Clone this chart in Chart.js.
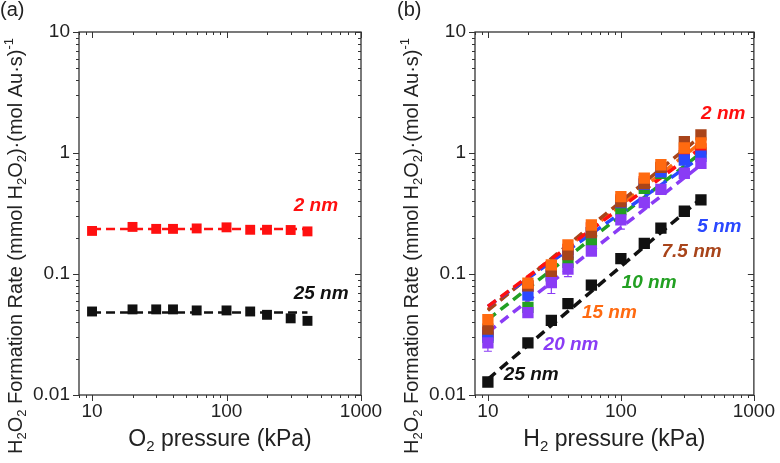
<!DOCTYPE html>
<html>
<head>
<meta charset="utf-8">
<script src="https://cdn.jsdelivr.net/npm/chart.js@4.4.0/dist/chart.umd.min.js"></script>
<style>
  html, body { margin: 0; padding: 0; background: #fff; }
  #wrap { position: relative; width: 780px; height: 463px; }
  .panel { position: absolute; top: 0; width: 390px; height: 463px; }
</style>
</head>
<body>
<div id="wrap">
  <div class="panel" style="left:0"><canvas id="chartA" width="390" height="463"></canvas></div>
  <div class="panel" style="left:390px"><canvas id="chartB" width="390" height="463"></canvas></div>
</div>
<script>
// pressures (kPa), same for both panels
const pressures = [10, 20, 30, 40, 60, 100, 150, 200, 300, 400];
const fitRange = [10, 400];

// (a) rate vs O2 pressure
const rateA_2nm = [0.227, 0.245, 0.236, 0.236, 0.238, 0.243, 0.232, 0.232, 0.231, 0.225];
const rateA_25nm = [0.049, 0.051, 0.051, 0.051, 0.050, 0.050, 0.049, 0.046, 0.043, 0.041];
const fitA_2nm = [0.235, 0.235];
const fitA_25nm = [0.048, 0.048];

// (b) rate vs H2 pressure
const rateB_2nm = [0.033, 0.079, 0.110, 0.160, 0.240, 0.410, 0.580, 0.750, 1.00, 1.08];
const rateB_5nm = [0.031, 0.067, 0.098, 0.150, 0.220, 0.390, 0.550, 0.700, 0.875, 0.94];
const rateB_7_5nm = [0.035, 0.080, 0.105, 0.145, 0.220, 0.395, 0.560, 0.760, 1.24, 1.41];
const rateB_10nm = [0.030, 0.053, 0.096, 0.125, 0.190, 0.340, 0.510, 0.680, 0.950, 1.00];
const rateB_15nm = [0.042, 0.084, 0.119, 0.174, 0.254, 0.436, 0.620, 0.800, 1.10, 1.21];
const rateB_20nm = [0.027, 0.048, 0.085, 0.110, 0.155, 0.280, 0.390, 0.500, 0.680, 0.82];
const rateB_25nm = [0.0128, 0.027, 0.0414, 0.057, 0.081, 0.134, 0.179, 0.239, 0.330, 0.41];
const errB_20nm = [0.004, 0, 0.016, 0.015, 0, 0.045, 0, 0, 0, 0];

const fitB_2nm = [0.054, 1.10];
const fitB_5nm = [0.054, 0.93];
const fitB_7_5nm = [0.050, 1.38];
const fitB_10nm = [0.042, 1.00];
const fitB_15nm = [0.051, 1.22];
const fitB_20nm = [0.033, 0.80];
const fitB_25nm = [0.0135, 0.42];

// tick labels
const xTicks = [10, 100, 1000];
const yTicks = [0.01, 0.1, 1, 10];

const C = {
  red: '#ff1010', blue: '#2a48ff', brown: '#a8441a', green: '#22a022',
  orange: '#ff6a10', purple: '#8a3cf5', black: '#111111'
};
const FONT = "'Liberation Sans', Arial, sans-serif";

function pointSet(ys, color, order, size, errs) {
  return {
    data: pressures.map((p, i) => ({ x: p, y: ys[i] })),
    pointStyle: 'rect', pointRadius: size, pointHoverRadius: size,
    backgroundColor: color, borderColor: color, borderWidth: 0,
    showLine: false, order: order, errs: errs
  };
}
function fitSet(ys, color, width, dash) {
  return {
    data: fitRange.map((p, i) => ({ x: p, y: ys[i] })),
    showLine: true, borderColor: color, borderWidth: width,
    borderDash: dash, pointRadius: 0, order: 50
  };
}

// draw text with sub/superscripts: parts = [text, kind] (0 normal, 1 sub, 2 sup)
function drawRich(ctx, parts, size, x, y) {
  const fontFor = k => (k ? Math.round(size * 0.66) : size) + 'px ' + FONT;
  let w = 0;
  parts.forEach(([t, k]) => { ctx.font = fontFor(k || 0); w += ctx.measureText(t).width; });
  let cx = x - w / 2;
  ctx.textAlign = 'left';
  ctx.textBaseline = 'alphabetic';
  parts.forEach(([t, k]) => {
    k = k || 0;
    ctx.font = fontFor(k);
    const dy = k === 1 ? size * 0.22 : (k === 2 ? -size * 0.42 : 0);
    ctx.fillText(t, cx, y + dy);
    cx += ctx.measureText(t).width;
  });
}

const yTitle = [['H'], ['2', 1], ['O'], ['2', 1], [' Formation Rate (mmol H'], ['2', 1], ['O'], ['2', 1], [')\u00b7(mol Au\u00b7s)'], ['-1', 2]];

function decor(cfg) {
  return {
    id: 'decor',
    beforeDatasetsDraw(chart) {
      const { ctx, scales: { x, y } } = chart;
      ctx.save();
      chart.data.datasets.forEach(ds => {
        if (!ds.errs) return;
        ctx.strokeStyle = ds.borderColor;
        ctx.lineWidth = 1.2;
        ds.data.forEach((pt, i) => {
          const e = ds.errs[i];
          if (!e) return;
          const px = x.getPixelForValue(pt.x);
          const lo = y.getPixelForValue(pt.y - e), hi = y.getPixelForValue(pt.y + e);
          ctx.beginPath();
          ctx.moveTo(px, hi); ctx.lineTo(px, lo);
          ctx.moveTo(px - 4, lo); ctx.lineTo(px + 4, lo);
          ctx.moveTo(px - 4, hi); ctx.lineTo(px + 4, hi);
          ctx.stroke();
        });
      });
      ctx.restore();
    },
    afterDraw(chart) {
      const { ctx, chartArea: a, scales: { x, y } } = chart;
      ctx.save();
      // frame
      ctx.strokeStyle = '#333';
      ctx.lineWidth = 1.3;
      ctx.strokeRect(a.left, a.top, a.right - a.left, a.bottom - a.top);
      // major / minor tick marks on all four sides
      ctx.lineWidth = 1;
      ctx.beginPath();
      for (let e = -3; e <= 3; e++) {
        for (let m = 1; m <= 9; m++) {
          const v = m * Math.pow(10, e);
          const len = m === 1 ? 6 : 3;
          if (v >= x.min * 0.999 && v <= x.max * 1.001) {
            const px = Math.round(x.getPixelForValue(v)) + 0.5;
            ctx.moveTo(px, a.bottom); ctx.lineTo(px, a.bottom + len);
            ctx.moveTo(px, a.top); ctx.lineTo(px, a.top + len);
          }
          if (v >= y.min * 0.999 && v <= y.max * 1.001) {
            const py = Math.round(y.getPixelForValue(v)) + 0.5;
            ctx.moveTo(a.left, py); ctx.lineTo(a.left - len, py);
            ctx.moveTo(a.right, py); ctx.lineTo(a.right - len, py);
          }
        }
      }
      ctx.stroke();

      ctx.fillStyle = '#222';
      // panel tag
      ctx.font = '20px ' + FONT;
      ctx.textAlign = 'left';
      ctx.textBaseline = 'alphabetic';
      ctx.fillText(cfg.tag, cfg.tagX, 16);
      // x title
      drawRich(ctx, cfg.xTitle, 23, (a.left + a.right) / 2, 446);
      // y title
      ctx.save();
      ctx.translate(cfg.yTitleX, 246);
      ctx.rotate(-Math.PI / 2);
      drawRich(ctx, yTitle, 20, 0, 0);
      ctx.restore();

      // size labels
      ctx.font = 'italic bold 19px ' + FONT;
      ctx.textAlign = 'center';
      ctx.textBaseline = 'middle';
      cfg.labels.forEach(l => {
        ctx.fillStyle = l.color;
        ctx.fillText(l.text, x.getPixelForValue(l.x), y.getPixelForValue(l.y));
      });
      ctx.restore();
    }
  };
}

function makeChart(cfg) {
  return new Chart(document.getElementById(cfg.id), {
    type: 'scatter',
    data: { datasets: cfg.datasets },
    options: {
      responsive: false,
      animation: false,
      devicePixelRatio: 1,
      layout: { padding: { left: 0, top: 32, right: cfg.padRight, bottom: 0 } },
      plugins: { legend: { display: false }, tooltip: { enabled: false } },
      scales: {
        x: {
          type: 'logarithmic', min: 8, max: 1000,
          afterFit: s => { s.height = 68; },
          afterBuildTicks: s => { s.ticks = xTicks.map(v => ({ value: v, major: true })); },
          ticks: {
            callback: v => String(v), autoSkip: false, maxRotation: 0,
            color: '#222', padding: 5, font: { family: FONT, size: 19 }
          },
          grid: { display: false, drawTicks: false },
          border: { display: false }
        },
        y: {
          type: 'logarithmic', min: 0.01, max: 10,
          afterFit: s => { s.width = cfg.yAxisWidth; },
          afterBuildTicks: s => { s.ticks = yTicks.map(v => ({ value: v, major: true })); },
          ticks: {
            callback: v => String(v), autoSkip: false,
            color: '#222', padding: 9, font: { family: FONT, size: 19 }
          },
          grid: { display: false, drawTicks: false },
          border: { display: false }
        }
      }
    },
    plugins: [decor(cfg)]
  });
}

makeChart({
  id: 'chartA', tag: '(a)', tagX: 0, padRight: 29, yAxisWidth: 79, yTitleX: 21.5,
  xTitle: [['O'], ['2', 1], [' pressure (kPa)']],
  labels: [
    { text: '2 nm', x: 462, y: 0.363, color: C.red },
    { text: '25 nm', x: 505, y: 0.069, color: C.black }
  ],
  datasets: [
    pointSet(rateA_2nm, C.red, 1, 7),
    pointSet(rateA_25nm, C.black, 2, 7),
    fitSet(fitA_2nm, C.red, 2.5, [9, 5]),
    fitSet(fitA_25nm, C.black, 2.5, [9, 5])
  ]
});

makeChart({
  id: 'chartB', tag: '(b)', tagX: 7, padRight: 22, yAxisWidth: 85, yTitleX: 27.5,
  xTitle: [['H'], ['2', 1], [' pressure (kPa)']],
  labels: [
    { text: '2 nm', x: 589, y: 2.09, color: C.red },
    { text: '5 nm', x: 550, y: 0.248, color: C.blue },
    { text: '7.5 nm', x: 340, y: 0.154, color: C.brown },
    { text: '10 nm', x: 163, y: 0.0854, color: C.green },
    { text: '15 nm', x: 82, y: 0.0482, color: C.orange },
    { text: '20 nm', x: 42.2, y: 0.0262, color: C.purple },
    { text: '25 nm', x: 21.2, y: 0.0148, color: C.black }
  ],
  datasets: [
    pointSet(rateB_25nm, C.black, 1, 8),
    pointSet(rateB_20nm, C.purple, 2, 8, errB_20nm),
    pointSet(rateB_15nm, C.orange, 3, 8),
    pointSet(rateB_7_5nm, C.brown, 4, 8),
    pointSet(rateB_5nm, C.blue, 5, 8),
    pointSet(rateB_2nm, C.red, 6, 8),
    pointSet(rateB_10nm, C.green, 7, 8),
    fitSet(fitB_2nm, C.red, 3.5, [10, 6]),
    fitSet(fitB_5nm, C.blue, 3.5, [10, 6]),
    fitSet(fitB_7_5nm, C.brown, 3.5, [10, 6]),
    fitSet(fitB_10nm, C.green, 3.5, [10, 6]),
    fitSet(fitB_15nm, C.orange, 3.5, [10, 6]),
    fitSet(fitB_20nm, C.purple, 3.5, [10, 6]),
    fitSet(fitB_25nm, C.black, 3.5, [10, 6])
  ]
});
</script>
</body>
</html>
